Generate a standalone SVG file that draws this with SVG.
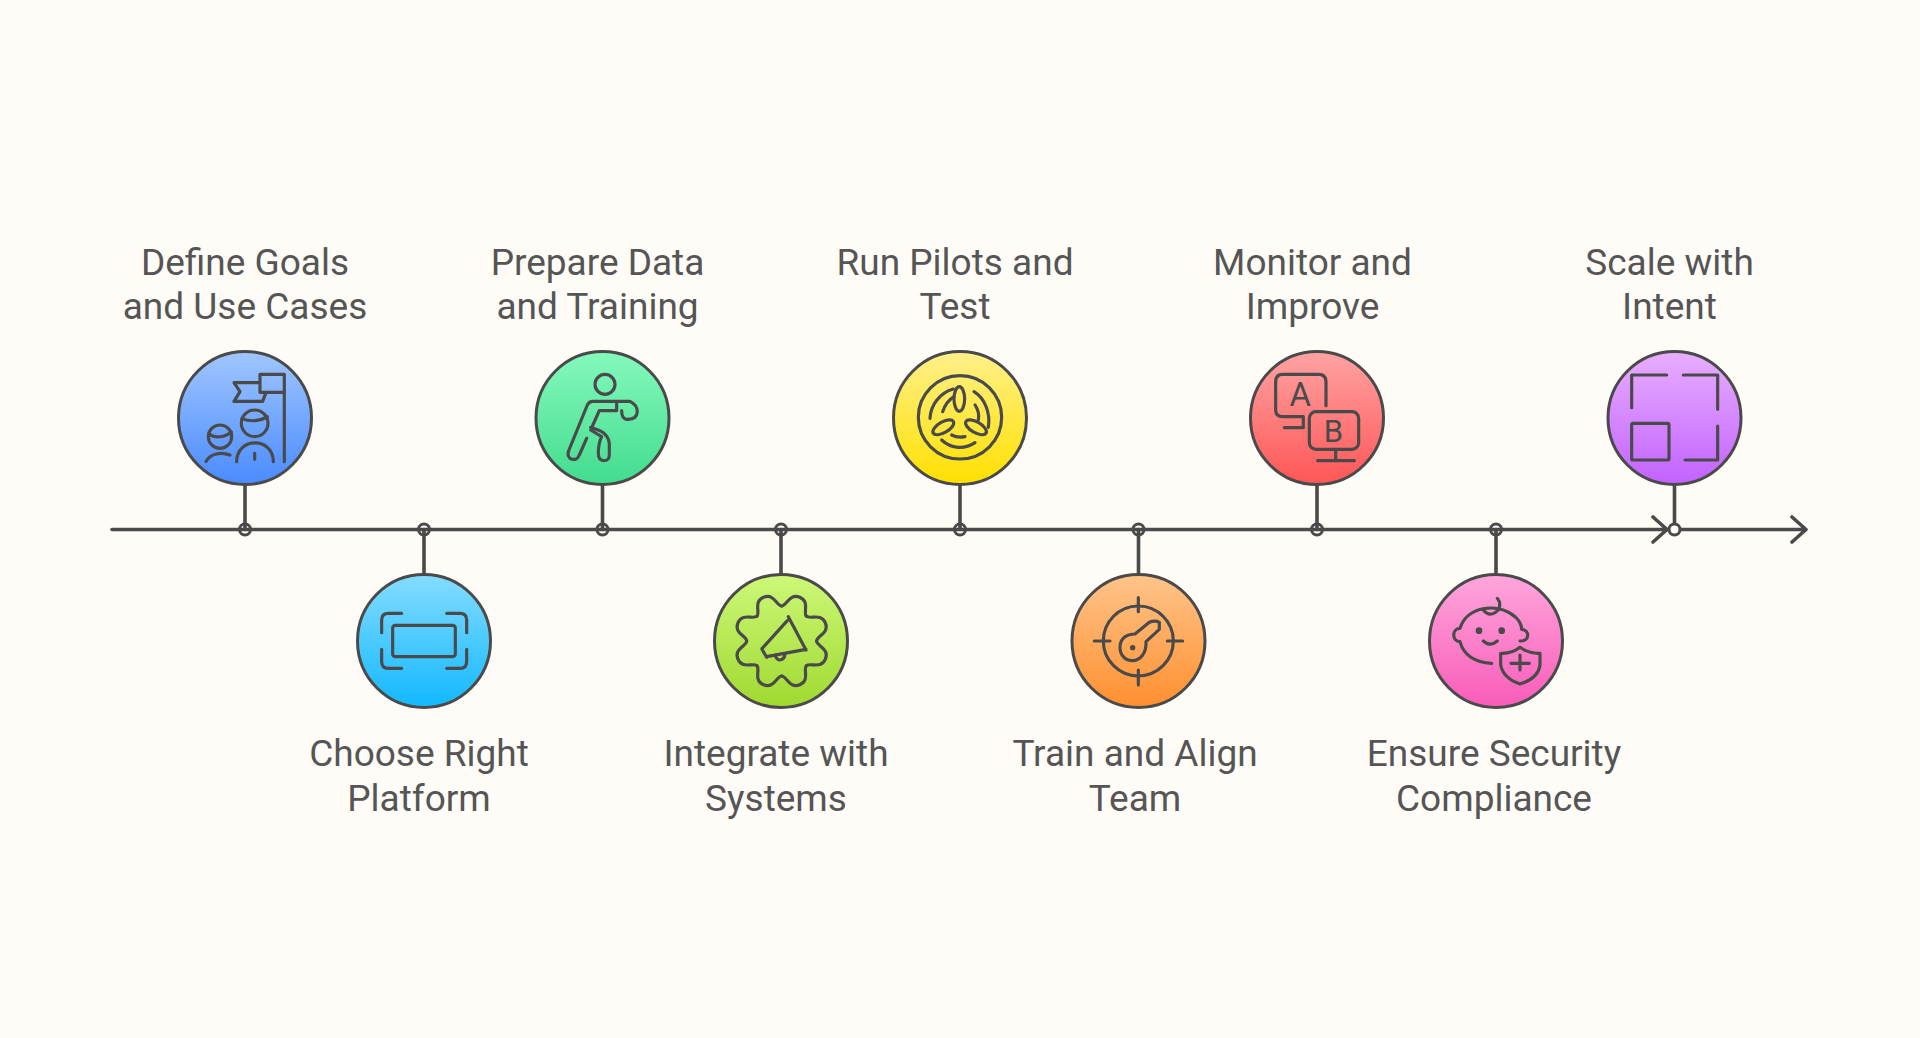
<svg xmlns="http://www.w3.org/2000/svg" xmlns:xlink="http://www.w3.org/1999/xlink" width="1920" height="1038" viewBox="0 0 1920 1038">
<style>
.bg{fill:#fffcf8}
.disc{stroke:#4a4a4a;stroke-width:3}
.ic{fill:none;stroke:#4a4a4a;stroke-width:9.5;stroke-linecap:round;stroke-linejoin:round}
.dotf{fill:#4a4a4a;stroke:none}
.line{fill:none;stroke:#4a4a4a;stroke-width:3.6;stroke-linecap:round;stroke-linejoin:round}
.dot{fill:none;stroke:#4a4a4a;stroke-width:3}
.lb{font-family:Roboto,"Liberation Sans",sans-serif;font-size:37px;fill:#555555;text-anchor:middle}
.gl{font-family:Roboto,"Liberation Sans",sans-serif;font-weight:400;fill:#4a4a4a;text-anchor:middle}
</style>
<defs>
<linearGradient id="g1" x1="0" y1="0" x2="0" y2="1"><stop offset="0" stop-color="#a0c6ff"/><stop offset="1" stop-color="#4a8bff"/></linearGradient>
<linearGradient id="g2" x1="0" y1="0" x2="0" y2="1"><stop offset="0" stop-color="#85dcff"/><stop offset="1" stop-color="#12b8ff"/></linearGradient>
<linearGradient id="g3" x1="0" y1="0" x2="0" y2="1"><stop offset="0" stop-color="#85f9bc"/><stop offset="1" stop-color="#42dc8e"/></linearGradient>
<linearGradient id="g4" x1="0" y1="0" x2="0" y2="1"><stop offset="0" stop-color="#ccf878"/><stop offset="1" stop-color="#a0d930"/></linearGradient>
<linearGradient id="g5" x1="0" y1="0" x2="0" y2="1"><stop offset="0" stop-color="#fff08a"/><stop offset="1" stop-color="#ffe000"/></linearGradient>
<linearGradient id="g6" x1="0" y1="0" x2="0" y2="1"><stop offset="0" stop-color="#ffc48a"/><stop offset="1" stop-color="#ff9030"/></linearGradient>
<linearGradient id="g7" x1="0" y1="0" x2="0" y2="1"><stop offset="0" stop-color="#ffa3a3"/><stop offset="1" stop-color="#ff5656"/></linearGradient>
<linearGradient id="g8" x1="0" y1="0" x2="0" y2="1"><stop offset="0" stop-color="#ffa6dc"/><stop offset="1" stop-color="#f85cb8"/></linearGradient>
<linearGradient id="g9" x1="0" y1="0" x2="0" y2="1"><stop offset="0" stop-color="#e8aeff"/><stop offset="1" stop-color="#c262ff"/></linearGradient>
<path id="lobe" class="ic" d="M-40.2 -97C-26 -103 -34 -142 0 -142C34 -142 26 -103 40.2 -97"/>
</defs>
<rect class="bg" x="0" y="0" width="1920" height="1038"/>
<g id="connectors">
<path class="line" d="M112 529.5H1806M1653 517L1667 529.5L1653 542M1792 517L1806 529.5L1792 542"/>
<path class="line" d="M245 485V529.5M424 529.5V574M602.5 485V529.5M781 529.5V574M960 485V529.5M1138.5 529.5V574M1317 485V529.5M1496 529.5V574M1674.5 485V529.5"/>
<circle class="dot" cx="245" cy="529.5" r="5.5"/>
<circle class="dot" cx="424" cy="529.5" r="5.5"/>
<circle class="dot" cx="602.5" cy="529.5" r="5.5"/>
<circle class="dot" cx="781" cy="529.5" r="5.5"/>
<circle class="dot" cx="960" cy="529.5" r="5.5"/>
<circle class="dot" cx="1138.5" cy="529.5" r="5.5"/>
<circle class="dot" cx="1317" cy="529.5" r="5.5"/>
<circle class="dot" cx="1496" cy="529.5" r="5.5"/>
<circle class="dot" style="fill:#fffcf8" cx="1674.5" cy="529.5" r="5.5"/>
</g>
<g id="node1">
<circle class="disc" fill="url(#g1)" cx="245" cy="418" r="66.5"/>
<g transform="translate(160 340) scale(.3333)">
<path class="ic" d="M373 365V103H300V157H373M298 128H222L240 155L222 184H308L318 157"/>
<circle class="ic" cx="284" cy="250" r="40"/>
<path class="ic" d="M246 236C270 246 300 244 322 230M230 365C230 290 340 290 340 365M284 340V358"/>
<circle class="ic" cx="180" cy="290" r="35"/>
<path class="ic" d="M148 282C165 296 195 292 214 276M138 365C150 340 185 335 210 345"/>
</g>
<text class="lb" x="245" y="274.5">Define Goals</text>
<text class="lb" x="245" y="319">and Use Cases</text>
</g>
<g id="node2">
<circle class="disc" fill="url(#g2)" cx="424" cy="641" r="66.5"/>
<g transform="translate(340 560) scale(.3333)">
<rect class="ic" x="158" y="196" width="188" height="94" rx="8"/>
<path class="ic" d="M185 160H145Q125 160 125 180V218M320 160H360Q380 160 380 180V218M125 268V305Q125 325 145 325H185M380 268V305Q380 325 360 325H320"/>
</g>
<text class="lb" x="419" y="765.5">Choose Right</text>
<text class="lb" x="419" y="810.5">Platform</text>
</g>
<g id="node3">
<circle class="disc" fill="url(#g3)" cx="602.5" cy="418" r="66.5"/>
<g transform="translate(520 340) scale(.3333)">
<circle class="ic" cx="255" cy="133" r="30"/>
<path class="ic" d="M290 212H238L212 270L245 290Q235 310 235 340Q235 362 252 362Q270 362 268 340V310Q265 285 240 272L212 262M200 295L178 345Q170 365 150 355Q140 345 147 330L202 195Q208 184 218 184H330Q352 195 352 215Q350 240 320 238Q305 235 305 212M290 184V212"/>
</g>
<text class="lb" x="597.5" y="274.5">Prepare Data</text>
<text class="lb" x="597.5" y="319">and Training</text>
</g>
<g id="node4">
<circle class="disc" fill="url(#g4)" cx="781" cy="641" r="66.5"/>
<g transform="translate(700 560) scale(.3333)">
<g transform="translate(245 243)">
<use href="#lobe" transform="rotate(22.5)"/>
<use href="#lobe" transform="rotate(67.5)"/>
<use href="#lobe" transform="rotate(112.5)"/>
<use href="#lobe" transform="rotate(157.5)"/>
<use href="#lobe" transform="rotate(202.5)"/>
<use href="#lobe" transform="rotate(247.5)"/>
<use href="#lobe" transform="rotate(292.5)"/>
<use href="#lobe" transform="rotate(337.5)"/>
</g>
<path class="ic" d="M265 170L318 270M262 182L186 266M186 268L200 292M200 290L318 268M225 285Q230 300 240 300Q255 298 255 280"/>
</g>
<text class="lb" x="776" y="765.5">Integrate with</text>
<text class="lb" x="776" y="810.5">Systems</text>
</g>
<g id="node5">
<circle class="disc" fill="url(#g5)" cx="960" cy="418" r="66.5"/>
<g transform="translate(880 340) scale(.3333)">
<circle class="ic" cx="240" cy="232" r="125"/>
<ellipse class="ic" cx="238" cy="177" rx="16" ry="37"/>
<ellipse class="ic" cx="190" cy="262" rx="35" ry="16" transform="rotate(-30 190 262)"/>
<ellipse class="ic" cx="288" cy="262" rx="35" ry="16" transform="rotate(30 288 262)"/>
<path class="ic" d="M150 235C152 195 180 158 220 147M282 155C315 175 332 220 325 262M185 300C215 328 255 328 285 308M188 215C195 195 205 180 222 170M285 195C295 210 298 225 295 240M215 285C230 293 240 293 255 290"/>
</g>
<text class="lb" x="955" y="274.5">Run Pilots and</text>
<text class="lb" x="955" y="319">Test</text>
</g>
<g id="node6">
<circle class="disc" fill="url(#g6)" cx="1138.5" cy="641" r="66.5"/>
<g transform="translate(1060 560) scale(.3333)">
<circle class="ic" cx="235" cy="243" r="105"/>
<path class="ic" d="M235 113V155M235 330V375M103 243H150M322 243H368M180 262C180 235 200 222 225 222L268 187Q285 180 298 187V208L258 245C260 280 240 302 218 302C195 302 180 285 180 262Z"/>
<circle class="dotf" cx="218" cy="263" r="8"/>
</g>
<text class="lb" x="1135" y="765.5">Train and Align</text>
<text class="lb" x="1135" y="810.5">Team</text>
</g>
<g id="node7">
<circle class="disc" fill="url(#g7)" cx="1317" cy="418" r="66.5"/>
<g transform="translate(1240 340) scale(.3333)">
<path class="ic" d="M258 197V125Q258 103 235 103H128Q107 103 107 125V210Q107 230 128 230H190V263H133"/>
<rect class="ic" x="208" y="215" width="148" height="113" rx="20"/>
<path class="ic" d="M287 328V362M233 362H343"/>
</g>
<text class="gl" x="1300.3" y="405.7" font-size="33">A</text>
<text class="gl" x="1333.3" y="441.7" font-size="31">B</text>
<text class="lb" x="1312.5" y="274.5">Monitor and</text>
<text class="lb" x="1312.5" y="319">Improve</text>
</g>
<g id="node8">
<circle class="disc" fill="url(#g8)" cx="1496" cy="641" r="66.5"/>
<g transform="translate(1410 560) scale(.3333)">
<path class="ic" d="M245 310C195 308 160 285 150 245C125 245 125 205 150 205C170 140 260 125 315 170C328 182 335 195 335 208C360 210 360 245 330 243M262 115Q275 130 265 150Q240 175 220 150M220 243Q240 262 262 243"/>
<circle class="dotf" cx="207" cy="212" r="10"/>
<circle class="dotf" cx="275" cy="212" r="10"/>
<path class="ic" d="M272 280Q305 282 330 262Q358 282 390 280V315Q385 355 330 372Q280 355 272 315ZM330 285V330M303 310H358"/>
</g>
<text class="lb" x="1494" y="765.5">Ensure Security</text>
<text class="lb" x="1494" y="810.5">Compliance</text>
</g>
<g id="node9">
<circle class="disc" fill="url(#g9)" cx="1674.5" cy="418" r="66.5"/>
<g transform="translate(1590 340) scale(.3333)">
<path class="ic" d="M125 203V105H230M280 105H383V208M383 258V360H285"/>
<rect class="ic" x="125" y="250" width="112" height="110" rx="4"/>
</g>
<text class="lb" x="1669.5" y="274.5">Scale with</text>
<text class="lb" x="1669.5" y="319">Intent</text>
</g>
</svg>
